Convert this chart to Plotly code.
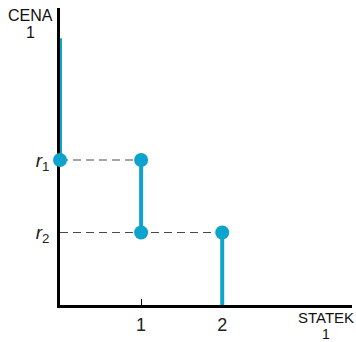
import plotly.graph_objects as go

# Quantities and price levels of the step demand curve
quantity_ticks = [1, 2]
quantity_labels = ["1", "2"]
price_levels = [2, 1]          # r1, r2
price_labels = ["<i>r</i><sub>1</sub>", "<i>r</i><sub>2</sub>"]
top_price = 3.68

blue = "#0ea3cd"
r1, r2 = price_levels

fig = go.Figure()

# dashed guides from the price axis to the points
for xs, ys in [([0, 1], [r1, r1]), ([0, 2], [r2, r2])]:
    fig.add_trace(go.Scatter(x=xs, y=ys, mode="lines",
                             line=dict(color="#4a4a4a", width=1.2, dash="8px,5px"),
                             hoverinfo="skip", showlegend=False))

# vertical blue segments of the demand curve
for xs, ys in [([0, 0], [top_price, r1]), ([1, 1], [r1, r2]), ([2, 2], [r2, 0])]:
    fig.add_trace(go.Scatter(x=xs, y=ys, mode="lines",
                             line=dict(color=blue, width=4),
                             cliponaxis=False, showlegend=False))

# endpoint dots
fig.add_trace(go.Scatter(x=[0, 1, 1, 2], y=[r1, r1, r2, r2], mode="markers",
                         marker=dict(color=blue, size=14),
                         cliponaxis=False, showlegend=False))

sans = "Liberation Sans, Arial, sans-serif"
font = dict(family=sans, size=15, color="#111111")

W, H = 356, 342
L, R, T, B = 60, 4, 8, 37
pw, ph = W - L - R, H - T - B


def px_to_paper(x, y):
    """Convert a pixel position in the page to paper coordinates."""
    return (x - L) / pw, (H - B - y) / ph


annotations = []
for text, (x, y), size in [("CENA", (30, 15), 16), ("1", (30, 33), 16),
                           ("STATEK", (326, 317), 15), ("1", (326, 334), 14)]:
    px, py = px_to_paper(x, y)
    annotations.append(dict(text=text, x=px, y=py, xref="paper", yref="paper",
                            xanchor="center", yanchor="middle", showarrow=False,
                            font=dict(family=sans, size=size, color="#111111")))

fig.update_layout(
    width=W, height=H,
    margin=dict(l=L, r=R, t=T, b=B),
    plot_bgcolor="white", paper_bgcolor="white",
    font=font,
    xaxis=dict(range=[0, 3.6], showgrid=False, zeroline=False,
               showline=True, linecolor="black", linewidth=2.5,
               tickvals=quantity_ticks, ticktext=quantity_labels,
               ticks="inside", ticklen=6, tickwidth=1.2, tickcolor="black",
               ticklabelstandoff=2,
               tickfont=dict(size=18, color="#222222", family=sans),
               layer="below traces"),
    yaxis=dict(range=[0, ph / 72.5], showgrid=False, zeroline=False,
               showline=True, linecolor="black", linewidth=2.5,
               tickvals=price_levels, ticktext=price_labels, ticks="",
               ticklabelstandoff=4,
               tickfont=dict(size=19, color="#222222", family=sans),
               layer="below traces"),
    annotations=annotations,
)

fig.write_html("out.html")
